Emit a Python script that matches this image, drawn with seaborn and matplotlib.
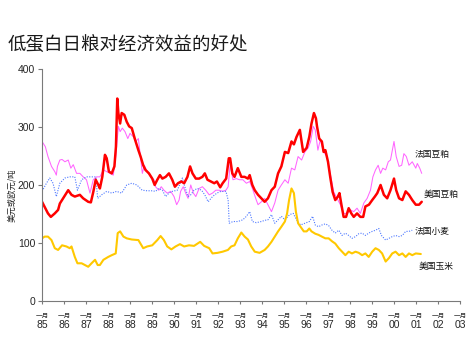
import matplotlib
matplotlib.use("Agg")
import matplotlib.pyplot as plt
import matplotlib.transforms as mtransforms
import seaborn as sns
import pandas as pd

# ---- data (time measured in years from January 1985) ----
year_labels = ["85", "86", "87", "88", "88", "89", "90", "91", "92", "93",
               "94", "95", "96", "97", "98", "99", "00", "01", "02", "03"]
month_label = "一月"

us_soy_t = [0, 0.27, 0.40, 0.58, 0.73, 0.81, 0.96, 1.19, 1.34, 1.49,
            1.72, 1.87, 2.10, 2.22, 2.33, 2.44, 2.56, 2.63, 2.74, 2.86,
            2.94, 3.04, 3.17, 3.29, 3.36, 3.42, 3.47, 3.55, 3.62, 3.74,
            3.85, 3.96, 4.08, 4.23, 4.38, 4.48, 4.60, 4.70, 4.86, 5.01,
            5.12, 5.24, 5.36, 5.47, 5.62, 5.77, 5.92, 6.04, 6.18, 6.33,
            6.46, 6.61, 6.73, 6.84, 6.99, 7.14, 7.29, 7.40, 7.52, 7.67,
            7.83, 7.95, 8.10, 8.21, 8.37, 8.49, 8.55, 8.65, 8.75, 8.90,
            9.06, 9.21, 9.36, 9.44, 9.56, 9.67, 9.82, 9.97, 10.12, 10.27,
            10.43, 10.58, 10.73, 10.88, 11.04, 11.19, 11.34, 11.45, 11.57, 11.72,
            11.87, 12.03, 12.15, 12.25, 12.36, 12.45, 12.50, 12.60, 12.72, 12.80,
            12.88, 13.00, 13.10, 13.21, 13.33, 13.45, 13.52, 13.61, 13.71, 13.82,
            13.94, 14.06, 14.17, 14.32, 14.47, 14.60, 14.70, 14.86, 15.01, 15.13,
            15.24, 15.39, 15.54, 15.69, 15.84, 16.00, 16.10, 16.23, 16.38, 16.53,
            16.68, 16.83, 16.99, 17.14, 17.26]
us_soy = [171, 151, 145, 151, 157, 168, 177, 191, 183, 180,
          183, 177, 171, 170, 188, 209, 200, 194, 214, 252,
          246, 223, 220, 232, 266, 349, 324, 306, 324, 321,
          309, 301, 298, 278, 260, 249, 234, 226, 220, 211,
          200, 209, 217, 211, 214, 220, 209, 197, 203, 206,
          203, 214, 232, 220, 211, 211, 214, 220, 209, 206,
          203, 206, 196, 203, 211, 246, 246, 220, 214, 229,
          214, 214, 211, 217, 200, 191, 183, 177, 171, 177,
          191, 197, 220, 232, 257, 255, 275, 270, 283, 295,
          257, 264, 283, 306, 324, 315, 301, 280, 275, 257,
          260, 240, 214, 188, 174, 180, 186, 166, 145, 145,
          160, 151, 145, 151, 145, 145, 163, 166, 174, 180,
          186, 200, 183, 177, 191, 211, 191, 177, 174, 189,
          183, 174, 166, 166, 171]

fr_soy_t = [0, 0.15, 0.27, 0.43, 0.58, 0.65, 0.70, 0.81, 0.91, 1.04,
            1.19, 1.31, 1.42, 1.57, 1.72, 1.87, 2.02, 2.18, 2.33, 2.48,
            2.63, 2.79, 2.94, 3.09, 3.24, 3.35, 3.47, 3.55, 3.65, 3.77,
            3.90, 4.00, 4.15, 4.26, 4.38, 4.48, 4.56, 4.65, 4.78, 4.93,
            5.09, 5.16, 5.31, 5.42, 5.54, 5.69, 5.85, 6.00, 6.12, 6.23,
            6.30, 6.42, 6.53, 6.64, 6.76, 6.88, 6.99, 7.14, 7.29, 7.44,
            7.60, 7.75, 7.90, 8.05, 8.21, 8.36, 8.46, 8.55, 8.68, 8.83,
            8.98, 9.13, 9.29, 9.44, 9.59, 9.74, 9.82, 9.97, 10.12, 10.27,
            10.43, 10.58, 10.73, 10.88, 11.04, 11.19, 11.34, 11.49, 11.64, 11.80,
            11.95, 12.10, 12.21, 12.33, 12.42, 12.54, 12.65, 12.80, 12.95, 13.10,
            13.26, 13.41, 13.56, 13.71, 13.87, 14.02, 14.17, 14.32, 14.47, 14.63,
            14.78, 14.93, 15.04, 15.16, 15.28, 15.39, 15.49, 15.62, 15.74, 15.84,
            16.00, 16.10, 16.23, 16.35, 16.45, 16.56, 16.68, 16.83, 16.99, 17.06,
            17.17, 17.26]
fr_soy = [275, 266, 249, 232, 223, 217, 232, 243, 244, 240,
          243, 229, 235, 220, 220, 214, 209, 186, 209, 214,
          214, 226, 223, 220, 217, 249, 301, 292, 298, 292,
          280, 289, 283, 275, 280, 246, 220, 234, 223, 214,
          209, 197, 191, 197, 191, 186, 189, 180, 166, 174,
          189, 197, 186, 177, 200, 186, 180, 194, 197, 191,
          183, 186, 191, 191, 189, 191, 197, 235, 209, 211,
          209, 209, 203, 206, 191, 174, 166, 171, 177, 166,
          154, 169, 191, 200, 209, 203, 229, 226, 249, 243,
          257, 264, 275, 301, 295, 260, 278, 257, 249, 220,
          188, 177, 166, 151, 151, 157, 154, 160, 151, 169,
          177, 191, 214, 226, 234, 220, 229, 226, 240, 243,
          275, 249, 232, 234, 254, 249, 234, 240, 229, 237,
          229, 220]

fr_wheat_t = [0, 0.20, 0.35, 0.50, 0.65, 0.81, 1.04, 1.26, 1.49, 1.61,
              1.80, 2.02, 2.25, 2.44, 2.53, 2.71, 2.94, 3.17, 3.39, 3.62,
              3.85, 4.08, 4.31, 4.55, 4.78, 5.01, 5.16, 5.31, 5.47, 5.62,
              5.77, 5.92, 6.15, 6.38, 6.49, 6.64, 6.76, 6.91, 7.06, 7.25,
              7.40, 7.55, 7.75, 7.95, 8.13, 8.36, 8.46, 8.51, 8.68, 8.90,
              9.13, 9.29, 9.44, 9.56, 9.74, 9.97, 10.12, 10.27, 10.43, 10.58,
              10.73, 10.88, 11.04, 11.26, 11.42, 11.57, 11.75, 11.95, 12.15, 12.30,
              12.42, 12.57, 12.72, 12.88, 13.03, 13.18, 13.33, 13.49, 13.64, 13.79,
              13.94, 14.09, 14.25, 14.40, 14.55, 14.70, 14.85, 15.01, 15.16, 15.31,
              15.43, 15.62, 15.77, 15.92, 16.07, 16.23, 16.38, 16.53, 16.68, 16.83]
fr_wheat = [189, 203, 212, 203, 180, 203, 212, 214, 214, 191,
            209, 214, 214, 214, 177, 183, 189, 186, 189, 186,
            200, 203, 200, 191, 190, 190, 189, 194, 191, 180,
            186, 189, 191, 212, 197, 180, 183, 191, 194, 191,
            183, 171, 180, 186, 189, 189, 174, 134, 137, 137,
            140, 146, 154, 137, 135, 137, 139, 140, 149, 134,
            140, 146, 140, 149, 151, 140, 131, 134, 137, 146,
            131, 128, 131, 133, 130, 122, 117, 122, 113, 117,
            113, 108, 111, 116, 117, 113, 117, 120, 122, 125,
            113, 105, 108, 111, 113, 111, 113, 120, 120, 122]

us_corn_t = [0, 0.12, 0.27, 0.43, 0.58, 0.73, 0.91, 1.11, 1.26, 1.34,
             1.49, 1.61, 1.80, 1.95, 2.10, 2.25, 2.41, 2.53, 2.63, 2.79,
             3.01, 3.17, 3.35, 3.44, 3.55, 3.70, 3.85, 4.08, 4.38, 4.60,
             4.78, 5.01, 5.24, 5.39, 5.54, 5.69, 5.88, 6.07, 6.27, 6.46,
             6.68, 6.91, 7.19, 7.37, 7.60, 7.75, 7.98, 8.21, 8.45, 8.60,
             8.75, 8.90, 9.06, 9.21, 9.36, 9.51, 9.67, 9.89, 10.12, 10.27,
             10.43, 10.58, 10.73, 10.88, 11.04, 11.14, 11.23, 11.34, 11.45, 11.54,
             11.64, 11.75, 11.90, 12.03, 12.15, 12.25, 12.42, 12.57, 12.72, 12.88,
             13.03, 13.18, 13.33, 13.49, 13.64, 13.79, 13.94, 14.09, 14.25, 14.40,
             14.55, 14.70, 14.85, 15.01, 15.16, 15.31, 15.46, 15.62, 15.77, 15.92,
             16.07, 16.23, 16.38, 16.53, 16.68, 16.83, 16.99, 17.22]
us_corn = [108, 111, 111, 105, 91, 88, 96, 94, 91, 94,
           76, 65, 65, 62, 59, 65, 71, 62, 62, 71,
           76, 79, 82, 117, 120, 111, 108, 106, 105, 91,
           94, 96, 105, 112, 105, 94, 89, 94, 98, 94,
           96, 95, 102, 95, 91, 82, 83, 85, 88, 94,
           96, 108, 118, 111, 106, 94, 85, 83, 88, 94,
           102, 111, 120, 128, 137, 151, 174, 194, 186, 154,
           134, 128, 120, 120, 125, 120, 116, 114, 111, 108,
           108, 103, 99, 91, 85, 79, 85, 82, 85, 83,
           79, 82, 76, 85, 91, 88, 82, 68, 74, 82,
           85, 79, 82, 76, 82, 79, 82, 81]

series_names = ["法国豆粕", "美国豆粕", "法国小麦", "美国玉米"]

# ---- styling ----
sns.set_theme(style="white")
plt.rcParams["font.family"] = ["Liberation Sans", "Noto Sans CJK SC", "DejaVu Sans"]
cjk = ["Noto Sans CJK SC", "DejaVu Sans"]

fig = plt.figure(figsize=(4.67, 3.5), dpi=100)
ax = fig.add_axes([0.090, 0.140, 0.895, 0.663])

sns.lineplot(x=fr_soy_t, y=fr_soy, ax=ax, color="#FF66FF", linewidth=0.75,
             estimator=None, sort=False)
sns.lineplot(x=fr_wheat_t, y=fr_wheat, ax=ax, color="#4D78FF", linewidth=0.8,
             linestyle=(0, (1, 1.3)), estimator=None, sort=False)
sns.lineplot(x=us_corn_t, y=us_corn, ax=ax, color="#FFC800", linewidth=1.5,
             estimator=None, sort=False)
sns.lineplot(x=us_soy_t, y=us_soy, ax=ax, color="#FF0000", linewidth=1.8,
             estimator=None, sort=False)

ax.set_xlim(0, 19)
ax.set_ylim(0, 400)
ax.set_yticks([0, 100, 200, 300, 400])
ax.set_xticks(range(len(year_labels)))
ax.set_xticklabels(year_labels)

for side in ("top", "right"):
    ax.spines[side].set_visible(False)
for side in ("left", "bottom"):
    ax.spines[side].set_color("#7a7a7a")
    ax.spines[side].set_linewidth(0.8)

ax.tick_params(axis="y", direction="out", length=3, width=0.8, color="#7a7a7a",
               labelsize=7.5, pad=2, left=True)
ax.tick_params(axis="x", direction="out", length=2.5, width=0.8, color="#7a7a7a",
               labelsize=7.5, pad=11, bottom=True)
ax.set_xlabel("")
ax.set_ylabel("")

# small month marker above each year label
trans = mtransforms.blended_transform_factory(ax.transData, ax.transAxes)
for i in range(len(year_labels)):
    ax.text(i, -0.066, month_label, transform=trans, ha="center", va="center",
            fontsize=4.8, family=cjk, color="#333333")

# series labels at the right end of the lines
label_pos = [(16.94, 252), (17.35, 183), (16.94, 119), (17.12, 59)]
for name, (lx, ly) in zip(series_names, label_pos):
    ax.text(lx, ly, name, ha="left", va="center", fontsize=6.3, family=cjk,
            color="#111111")

fig.text(12 / 467, 1 - 195 / 350, "美元或欧元/吨", rotation=90, ha="center",
         va="center", fontsize=6, family=cjk, color="#222222")

fig.text(8 / 467, 1 - 45 / 350, "低蛋白日粮对经济效益的好处", ha="left",
         va="center", fontsize=13.3, family=cjk, style="italic",
         color="#1a1a1a")

fig.savefig("out.png", dpi=100)
